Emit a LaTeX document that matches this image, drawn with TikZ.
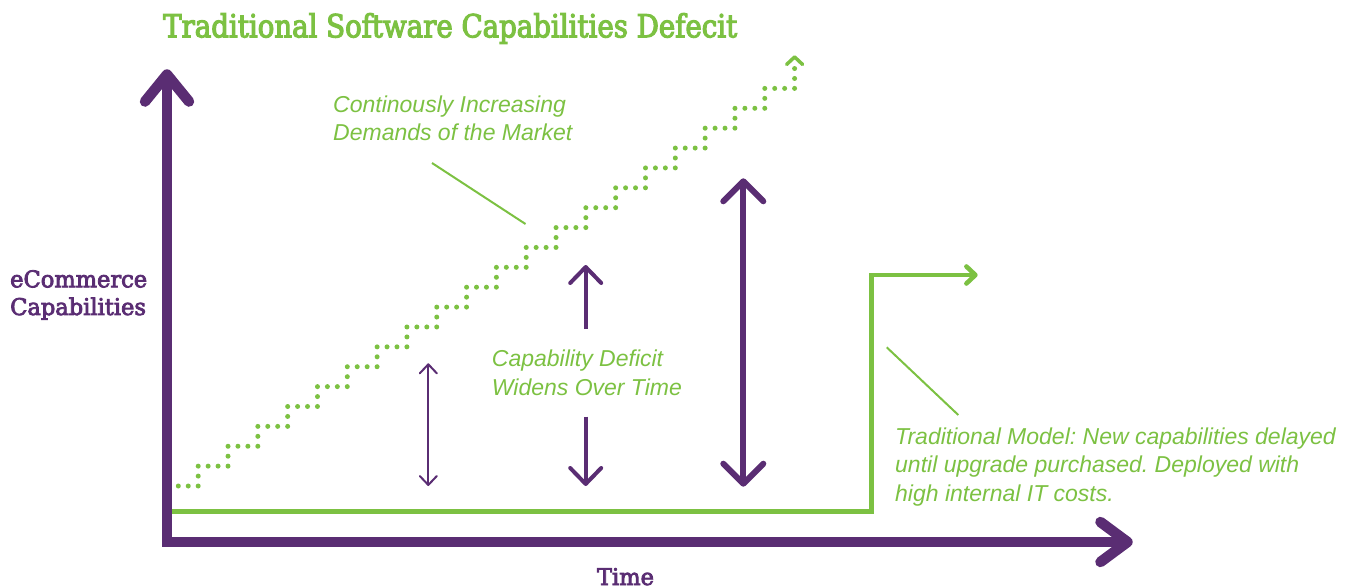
\documentclass[tikz,border=0pt]{standalone}
\usepackage{fontspec}
\usepackage{graphicx}
\usetikzlibrary{arrows.meta}
\newfontfamily\slabfont[FakeStretch=0.87,FakeBold=3.5]{DejaVu Serif}
\newfontfamily\tagfont[FakeStretch=0.98,FakeBold=3.5]{DejaVu Serif}
\newfontfamily\notefont{Liberation Sans}
\definecolor{leaf}{HTML}{7CC142}
\definecolor{plum}{HTML}{5A2D73}
\frenchspacing
\begin{document}
\begin{tikzpicture}[x=1pt,y=-1pt,
  headfont/.style={font=\slabfont\fontsize{30}{36}\selectfont},
  axisfont/.style={font=\tagfont\fontsize{23}{27.7}\selectfont},
  notefont/.style={font=\notefont\itshape\fontsize{23}{28.4}\selectfont},
  txt/.style={inner sep=0pt, anchor=base west},
  axisline/.style={draw=plum, line width=10.5pt, line join=miter,
    {Straight Barb[length=27pt,width=44pt,round]}-{Straight Barb[length=27pt,width=40pt,round]}},
  gap/.style={draw=plum, line width=#1pt},
  tipM/.style={-{Straight Barb[length=16pt,width=31pt,round]}},
  tipL/.style={{Straight Barb[length=20pt,width=40pt,round]}-{Straight Barb[length=20pt,width=40pt,round]}},
  tipSS/.style={{Straight Barb[length=9pt,width=17pt,round]}-{Straight Barb[length=9pt,width=17pt,round]}},
  stairs/.style={draw=leaf, line width=5pt, line cap=round, dash pattern=on 0pt off 9.94pt},
  stepline/.style={draw=leaf, line width=4.6pt, line join=miter,
    -{Straight Barb[length=9pt,width=17pt,round]}},
  leader/.style={draw=leaf, line width=2pt}]
\useasboundingbox (0,0) rectangle (1349,588);

% title and axis labels
\node[txt, headfont, text=leaf] (title) at (163,37.3)
  {\resizebox{574pt}{!}{Traditional Software Capabilities Defecit}};
\node[txt, axisfont, text=plum] (ylab) at (10,287.3)
  {\begin{tabular}[t]{@{}l@{}}eCommerce\\Capabilities\end{tabular}};
\node[inner sep=0pt, anchor=base, axisfont, text=plum] (xlab) at (625.5,585) {Time};

% notes
\node[txt, notefont, text=leaf] (demand) at (333,112.5)
  {\begin{tabular}[t]{@{}l@{}}Continously Increasing\\Demands of the Market\end{tabular}};
\node[txt, notefont, text=leaf] (deficit) at (491.7,366.7)
  {\begin{tabular}[t]{@{}l@{}}Capability Deficit\\Widens Over Time\end{tabular}};
\node[txt, notefont, text=leaf] (tradmodel) at (895,444.3)
  {\begin{tabular}[t]{@{}l@{}}Traditional Model: New capabilities delayed\\until upgrade purchased. Deployed with\\high internal IT costs.\end{tabular}};

% traditional model: flat, then one jump
\coordinate (g0) at (172,511.7);
\coordinate (g1) at (871.7,511.7);
\coordinate (g2) at (871.7,275);
\coordinate (g3) at (977.7,275);
\draw[stepline] (g0) -- (g1) -- (g2) -- (g3);

% market demand: dotted staircase
\draw[stairs] (178.3,486) -- (198.2,486)
  foreach \k in {1,...,20} { -- ++(0,-19.88) -- ++(29.82,0) } -- ++(0,-19.88);
\draw[draw=leaf, line width=3.5pt, line cap=round, line join=round]
  (786.6,64.5) -- (794.6,57) -- (802.6,64.5);

% axes
\coordinate (ytop) at (167,69.3);
\coordinate (origin) at (167,542);
\coordinate (xend) at (1132.7,542);
\draw[axisline] (ytop) -- (origin) -- (xend);

% deficit arrows
\coordinate (s1) at (428.3,363.3);
\coordinate (s2) at (428.3,486);
\draw[gap=2, tipSS] (s1) -- (s2);
\coordinate (m1) at (585.7,329);
\coordinate (m2) at (585.7,265);
\coordinate (m3) at (585.7,416.7);
\coordinate (m4) at (585.7,486);
\draw[gap=4, tipM] (m1) -- (m2);
\draw[gap=4, tipM] (m3) -- (m4);
\coordinate (b1) at (743.3,178.3);
\coordinate (b2) at (743.3,486.7);
\draw[gap=6, tipL] (b1) -- (b2);

% leaders
\coordinate (l1a) at (432,163);
\coordinate (l1b) at (525.5,224);
\draw[leader] (l1a) -- (l1b);
\coordinate (l2a) at (886.7,347.3);
\coordinate (l2b) at (958.3,415);
\draw[leader] (l2a) -- (l2b);
\end{tikzpicture}
\end{document}
